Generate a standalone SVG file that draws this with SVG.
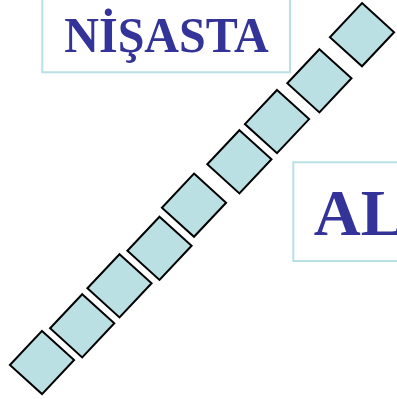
<svg xmlns="http://www.w3.org/2000/svg" xmlns:xlink="http://www.w3.org/1999/xlink" width="397" height="399" viewBox="0 0 397 399">
  <style>
    .box { fill: #ffffff; stroke: #b9e0e3; stroke-width: 2; }
    .lbl { font-family: "Liberation Serif", "Times New Roman", serif; font-weight: bold; fill: #333399; }
    .unit { fill: #bbe0e3; stroke: #000000; stroke-width: 2; stroke-linejoin: miter; }
  </style>
  <defs>
    <polygon id="unit" class="unit" points="0,-31.6 32.1,-2.5 0,31.6 -32.1,2.5"/>
  </defs>
  <rect width="397" height="399" fill="#ffffff"/>
  <g id="nisasta">
    <rect class="box" x="42.3" y="-5" width="247.7" height="77.3"/>
    <text class="lbl" x="64.3" y="52.3" font-size="51" textLength="204.5" lengthAdjust="spacingAndGlyphs">NİŞASTA</text>
  </g>
  <g id="al">
    <rect class="box" x="293.3" y="162.3" width="110" height="98.7"/>
    <text class="lbl" x="313.7" y="235" font-size="65">AL</text>
  </g>
  <g id="chain">
    <use xlink:href="#unit" x="362" y="34.7"/>
    <use xlink:href="#unit" x="319.4" y="80.8"/>
    <use xlink:href="#unit" x="277" y="121.6"/>
    <use xlink:href="#unit" x="239.4" y="161.8"/>
    <use xlink:href="#unit" x="194" y="205.2"/>
    <use xlink:href="#unit" x="159.5" y="248.3"/>
    <use xlink:href="#unit" x="119.5" y="285.8"/>
    <use xlink:href="#unit" x="82.2" y="325.8"/>
    <use xlink:href="#unit" x="42" y="362.5"/>
  </g>
</svg>
